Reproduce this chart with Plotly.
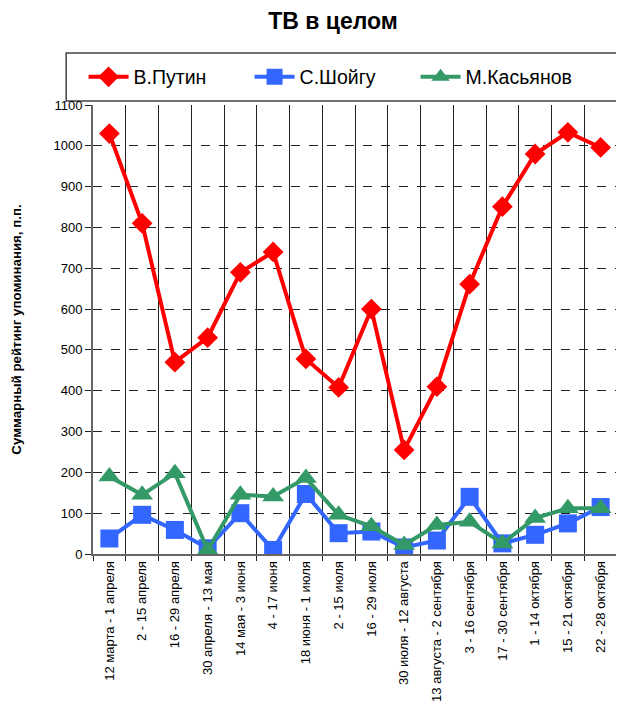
import plotly.graph_objects as go

categories = [
    "12 марта - 1 апреля", "2 - 15 апреля", "16 - 29 апреля", "30 апреля - 13 мая",
    "14 мая - 3 июня", "4 - 17 июня", "18 июня - 1 июля", "2 - 15 июля",
    "16 - 29 июля", "30 июля - 12 августа", "13 августа - 2 сентября", "3 - 16 сентября",
    "17 - 30 сентября", "1 - 14 октября", "15 - 21 октября", "22 - 28 октября",
]
putin = [1030, 810, 470, 530, 690, 740, 478, 408, 600, 255, 410, 661, 851, 980, 1033, 996]
shoigu = [38, 96, 59, 14, 100, 10, 147, 51, 55, 16, 33, 140, 26, 47, 75, 115]
kasyanov = [190, 145, 198, 10, 145, 141, 186, 96, 68, 22, 71, 79, 26, 88, 112, 112]

series = [
    ("В.Путин", putin, "#ff0000", "diamond", 16),
    ("С.Шойгу", shoigu, "#3366ff", "square", 18),
    ("М.Касьянов", kasyanov, "#339966", "triangle-up", 19),
]

fig = go.Figure()
for name, vals, col, sym, size in series:
    fig.add_trace(go.Scatter(
        x=categories, y=vals, name=name, mode="lines+markers",
        line=dict(color=col, width=4),
        marker=dict(symbol=sym, size=size, color=col),
    ))

# page body has an 8px default margin, so the figure is 8px smaller
fig.update_layout(
    width=616, height=708,
    margin=dict(l=82, r=7, t=97, b=162),
    paper_bgcolor="white", plot_bgcolor="white",
    font=dict(family="Liberation Sans, Arial, sans-serif", color="black"),
    title=dict(text="<b>ТВ в целом</b>", x=325 / 616, xanchor="center", y=1 - 13 / 708, yanchor="middle",
               font=dict(size=23, color="black")),
    showlegend=True,
    legend=dict(orientation="h", x=-0.018, xanchor="left", y=1.062, yanchor="middle",
                font=dict(size=19.5, color="black"), bgcolor="rgba(0,0,0,0)",
                entrywidth=111, itemwidth=40, traceorder="normal"),
    shapes=[dict(type="rect", xref="paper", yref="paper", x0=-0.0512, x1=1.03,
                 y0=1.0089, y1=1.1158, line=dict(color="#444", width=1.5),
                 fillcolor="rgba(0,0,0,0)", layer="below")],
)

fig.update_xaxes(
    type="category", range=[-0.5, 15.5], tickson="boundaries",
    showgrid=True, gridcolor="#222", gridwidth=1,
    ticks="outside", ticklen=5, tickcolor="#222", tickangle=-90,
    tickfont=dict(size=13, color="black"),
    showline=True, linecolor="#666", linewidth=2,
)
fig.update_yaxes(
    range=[0, 1100], dtick=100, tick0=0,
    showgrid=True, gridcolor="#222", gridwidth=1, griddash="dash",
    ticks="outside", ticklen=6, tickcolor="#222",
    tickfont=dict(size=13, color="black"),
    showline=True, linecolor="#666", linewidth=2, zeroline=False,
    title=dict(text="<b>Суммарный рейтинг упоминания, п.п.</b>", font=dict(size=13.3, color="black"), standoff=29),
)

fig.write_html("out.html")
